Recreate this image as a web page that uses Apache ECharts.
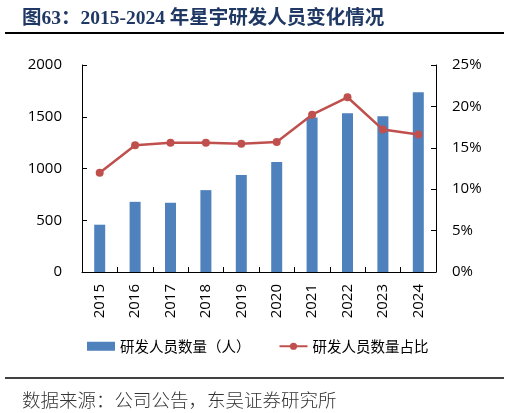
<!DOCTYPE html>
<html><head><meta charset="utf-8">
<script src="https://cdn.jsdelivr.net/npm/echarts@6/dist/echarts.min.js"></script>
<style>html,body{margin:0;padding:0;background:#fff}#c{width:510px;height:413px}</style>
</head><body><div id="c"></div>
<script>
const years = ['2015','2016','2017','2018','2019','2020','2021','2022','2023','2024'];
const staffCount = [457, 678, 669, 791, 936, 1064, 1492, 1534, 1505, 1736];
const staffRatio = [12.0, 15.3, 15.6, 15.6, 15.5, 15.7, 19.0, 21.1, 17.2, 16.6];
const leftTicks = [0, 500, 1000, 1500, 2000];
const rightTicks = [0, 5, 10, 15, 20, 25];
const titleText = '图63：2015-2024 年星宇研发人员变化情况';
const sourceText = '数据来源：公司公告，东吴证券研究所';
const barName = '研发人员数量（人）';
const lineName = '研发人员数量占比';

const chart = echarts.init(document.getElementById('c'));
const axisFont = {fontFamily:'"Open Sans","Noto Sans CJK SC",sans-serif', fontSize:15, color:'#000'};
chart.setOption({
  animation:false,
  title:[{text:titleText, left:17, top:4,
    textStyle:{fontFamily:'"Liberation Serif","Noto Sans CJK SC",serif', fontWeight:'bold', fontSize:19.5, color:'#1F3864'}},
    {text:sourceText, left:17, top:386,
    textStyle:{fontFamily:'"Noto Sans CJK SC",sans-serif', fontWeight:300, fontSize:18.5, color:'#333'}}],
  graphic:[
    {type:'line', shape:{x1:5,y1:33,x2:504,y2:33}, style:{stroke:'#000', lineWidth:2}},
    {type:'line', shape:{x1:5,y1:378,x2:504,y2:378}, style:{stroke:'#000', lineWidth:1.5}}
  ],
  legend:{left:82, top:334, itemWidth:28, itemHeight:9, itemGap:28,
    textStyle:{fontFamily:'"Noto Sans CJK SC",sans-serif', fontSize:14.5, color:'#000'},
    data:[{name:barName, icon:'rect'}, {name:lineName}]},
  grid:{left:82, right:74, top:65, bottom:141},
  xAxis:{type:'category', data:years,
    axisLine:{lineStyle:{color:'#000', width:1}},
    axisTick:{show:true, inside:true, length:5, lineStyle:{color:'#000'}},
    axisLabel:Object.assign({rotate:90, margin:12, interval:0}, axisFont)},
  yAxis:[
    {type:'value', min:leftTicks[0], max:leftTicks[leftTicks.length-1], interval:500,
      axisLine:{show:true, lineStyle:{color:'#000'}},
      axisTick:{show:true, inside:true, length:5, lineStyle:{color:'#000'}},
      splitLine:{show:false},
      axisLabel:Object.assign({margin:20, formatter:v => String(v)}, axisFont)},
    {type:'value', min:rightTicks[0], max:rightTicks[rightTicks.length-1], interval:5,
      axisLine:{show:true, lineStyle:{color:'#000'}},
      axisTick:{show:true, inside:true, length:5, lineStyle:{color:'#000'}},
      splitLine:{show:false},
      axisLabel:Object.assign({margin:16, formatter:'{value}%'}, axisFont)}
  ],
  series:[
    {name:barName, type:'bar', data:staffCount, barWidth:11,
      itemStyle:{color:'#4F81BD'}},
    {name:lineName, type:'line', yAxisIndex:1, data:staffRatio,
      symbol:'circle', symbolSize:8,
      lineStyle:{color:'#C0504D', width:2.5}, itemStyle:{color:'#C0504D'}}
  ]
});
</script></body></html>
